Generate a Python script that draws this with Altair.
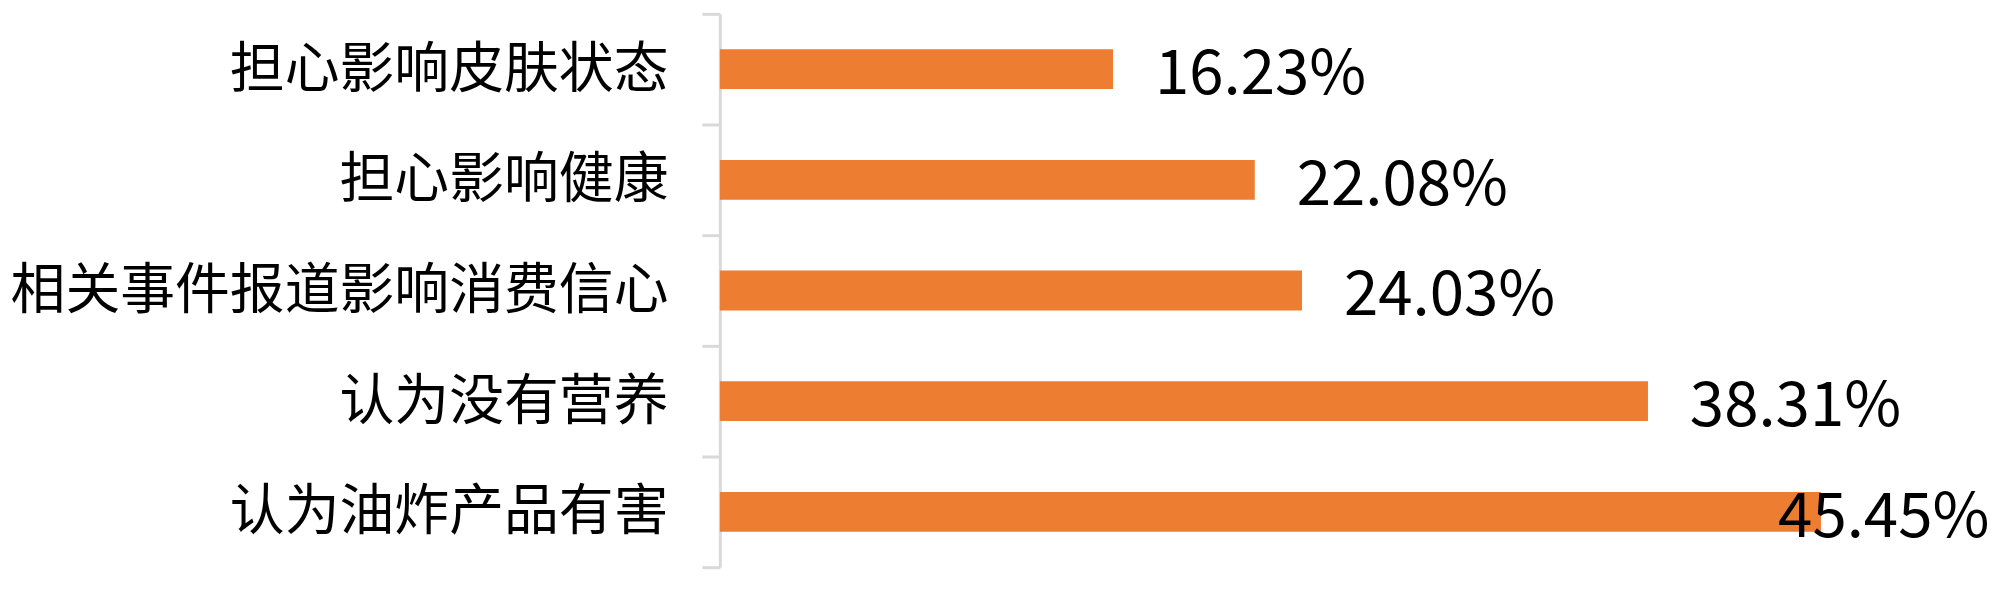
import altair as alt
import pandas as pd

categories = ["担心影响皮肤状态", "担心影响健康", "相关事件报道影响消费信心", "认为没有营养", "认为油炸产品有害"]
values = [16.23, 22.08, 24.03, 38.31, 45.45]
labels = ["16.23%", "22.08%", "24.03%", "38.31%", "45.45%"]

df = pd.DataFrame({"cat": categories, "val": values, "label": labels})

FONT = "Noto Sans CJK SC"
ORANGE = "#ED7D31"

y_enc = alt.Y(
    "cat:N",
    sort=categories,
    title=None,
    scale=alt.Scale(paddingInner=0, paddingOuter=0),
    axis=alt.Axis(
        labelFont=FONT,
        labelFontSize=55,
        labelColor="#000000",
        labelPadding=34,
        labelLimit=0,
        tickBand="extent",
        tickSize=18,
        tickWidth=3,
        tickColor="#d9d9d9",
        domainColor="#d9d9d9",
        domainWidth=3,
        grid=False,
    ),
)
x_enc = alt.X("val:Q", title=None, scale=alt.Scale(domain=[0, 50]), axis=None)

bars = alt.Chart(df).mark_bar(color=ORANGE, height=alt.RelativeBandSize(0.36)).encode(x=x_enc, y=y_enc)

text_out = alt.Chart(df).transform_filter(alt.datum.val < 45).mark_text(
    align="left", baseline="middle", dx=42, dy=6, font=FONT, fontSize=62, color="#000000"
).encode(x=x_enc, y=y_enc, text="label:N")

text_in = alt.Chart(df).transform_filter(alt.datum.val >= 45).mark_text(
    align="left", baseline="middle", dx=-43, dy=6, font=FONT, fontSize=62, color="#000000"
).encode(x=x_enc, y=y_enc, text="label:N")

chart = (
    alt.layer(bars, text_out, text_in)
    .properties(
        width=1215,
        height=555,
        background="#ffffff",
        autosize=alt.AutoSizeParams(type="none"),
        padding={"left": 714, "top": 5, "right": 60, "bottom": 10},
    )
    .configure_view(strokeWidth=0, stroke=None)
)

chart.save("out.html", embed_options={"renderer": "svg", "actions": False})
